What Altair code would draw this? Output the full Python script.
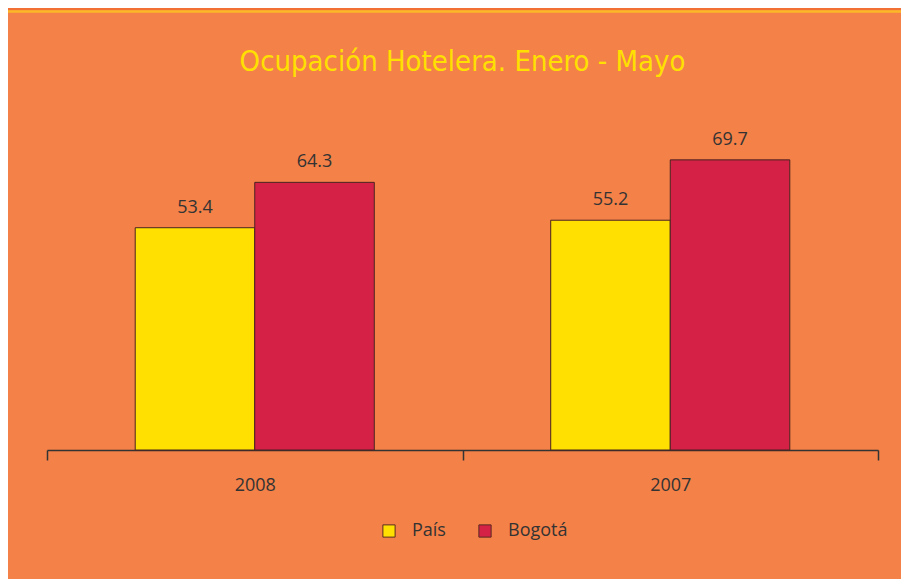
import altair as alt
import pandas as pd

years = ["2008", "2008", "2007", "2007"]
series = ["País", "Bogotá", "País", "Bogotá"]
values = [53.4, 64.3, 55.2, 69.7]
year_order = ["2008", "2007"]
series_order = ["País", "Bogotá"]
colors = ["#FFE000", "#D42145"]

df = pd.DataFrame({"year": years, "serie": series, "value": values})

BG = "#F48148"
TXT = "#333333"
FONT = "Open Sans"

x_enc = alt.X("year:N", sort=year_order, title=None,
              scale=alt.Scale(paddingInner=0, paddingOuter=0),
              axis=alt.Axis(labelAngle=0, labelFontSize=18, labelColor=TXT, labelFont=FONT,
                            domainColor=TXT, domainWidth=1.5, tickColor=TXT, tickWidth=1.5,
                            tickSize=10, tickBand="extent", labelPadding=16))
xo_enc = alt.XOffset("serie:N", sort=series_order,
                     scale=alt.Scale(paddingInner=0, paddingOuter=0.738))
y_enc = alt.Y("value:Q", scale=alt.Scale(domain=[0, 80], nice=False), axis=None)

bars = alt.Chart(df).mark_bar(stroke="#4a2520", strokeWidth=1).encode(
    x=x_enc, xOffset=xo_enc, y=y_enc,
    color=alt.Color("serie:N", sort=series_order,
                    scale=alt.Scale(domain=series_order, range=colors),
                    legend=alt.Legend(title=None, orient="none", legendX=333, legendY=405,
                                      direction="horizontal", symbolType="square",
                                      symbolSize=150, symbolStrokeColor="#5a2a20",
                                      symbolStrokeWidth=1, symbolOpacity=1,
                                      labelFontSize=18, labelColor=TXT, labelFont=FONT,
                                      labelOffset=14, columnPadding=30)),
)

labels = alt.Chart(df).mark_text(baseline="bottom", dy=-11, fontSize=18, color=TXT, font=FONT).encode(
    x=alt.X("year:N", sort=year_order), xOffset=alt.XOffset("serie:N", sort=series_order),
    y="value:Q", text=alt.Text("value:Q", format=".1f"),
)

frame = pd.DataFrame({"k": [0]})
top_strip = alt.Chart(frame).mark_rect(color="#F37035").encode(
    x=alt.value(-39), x2=alt.value(854), y=alt.value(-109), y2=alt.value(-107))
top_line = alt.Chart(frame).mark_rule(color="#FDB827", strokeWidth=2.5).encode(
    x=alt.value(-39), x2=alt.value(854), y=alt.value(-105.5))

chart = alt.layer(top_strip, top_line, bars, labels).properties(
    width=831, height=333,
    background=BG,
    padding={"left": 39, "top": 109, "right": 23, "bottom": 129},
    autosize=alt.AutoSizeParams(type="none"),
    title=alt.TitleParams("Ocupación Hotelera. Enero - Mayo", fontSize=29,
                          font="DejaVu Sans Condensed",
                          fontWeight="normal", color="#FFE000", anchor="middle",
                          baseline="alphabetic", offset=-92),
).configure_view(stroke=None)

chart.save("out.html", embed_options={"renderer": "svg", "actions": False})
